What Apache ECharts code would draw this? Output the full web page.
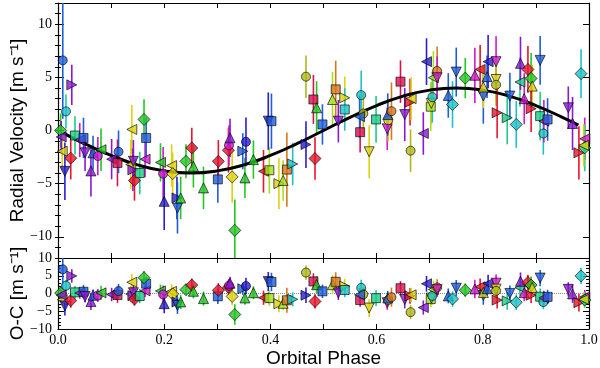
<!DOCTYPE html>
<html>
<head>
<meta charset="utf-8">
<script src="https://cdn.jsdelivr.net/npm/echarts@6/dist/echarts.min.js"></script>
<style>
  html, body { margin: 0; padding: 0; background: #fff; }
  #chart { width: 600px; height: 368px; }
</style>
</head>
<body>
<div id="chart"></div>
<script>
// orbital phase of each measurement
const phase = [
  0.005, 0.009, 0.008, 0.006, 0.013, 0.015, 0.026, 0.024, 0.032, 0.041,
  0.048, 0.051, 0.062, 0.066, 0.075, 0.081, 0.101, 0.112, 0.114, 0.137,
  0.139, 0.141, 0.142, 0.144, 0.154, 0.164, 0.166, 0.162, 0.193, 0.198,
  0.200, 0.214, 0.216, 0.224, 0.225, 0.231, 0.241, 0.252, 0.255, 0.274,
  0.301, 0.302, 0.321, 0.322, 0.324, 0.328, 0.333, 0.348, 0.352, 0.354,
  0.368, 0.387, 0.398, 0.396, 0.402, 0.416, 0.424, 0.431, 0.442, 0.467,
  0.467, 0.481, 0.484, 0.487, 0.498, 0.517, 0.523, 0.528, 0.540, 0.540,
  0.569, 0.571, 0.575, 0.568, 0.586, 0.599, 0.620, 0.622, 0.621, 0.628,
  0.645, 0.653, 0.663, 0.664, 0.665, 0.688, 0.694, 0.702, 0.703, 0.705,
  0.707, 0.714, 0.714, 0.735, 0.743, 0.750, 0.767, 0.785, 0.795, 0.801,
  0.801, 0.808, 0.810, 0.825, 0.825, 0.825, 0.827, 0.846, 0.851, 0.863,
  0.870, 0.871, 0.878, 0.885, 0.891, 0.893, 0.891, 0.908, 0.908, 0.914,
  0.915, 0.922, 0.961, 0.969, 0.981, 0.985, 0.992, 0.992, 0.990
];
// radial velocity [m/s]
const rv = [
  0.0, 6.6, -1.95, -0.6, -3.84, 1.8, 4.3, -2.6, -0.47, -0.9,
  -0.7, -2.1, -3.8, -2.1, -2.4, -1.8, -2.7, -3.05, -2.0, -3.2,
  0.1, -3.7, -2.9, -4.7, -4.0, -2.7, -0.7, 1.04, -3.0, -4.06,
  -6.67, -3.3, -4.06, -6.35, -7.3, -6.35, -2.9, -1.64, -3.37, -5.4,
  -4.6, -2.9, -1.86, -1.4, -0.69, -4.37, -9.4, -1.95, -4.46, -1.07,
  -2.74, -3.84, -3.74, 0.88, 0.88, -5.0, -4.7, -3.68, -3.15, -1.32,
  5.07, 2.92, -2.64, 2.14, 0.57, 2.92, 3.87, 0.88, 3.08, 1.98,
  -0.16, 3.33, 1.6, 1.3, -2.0, 1.04, 0.16, 0.97, 1.5, 1.82,
  4.6, 1.5, 2.67, -1.9, 3.0, -0.28, 6.48, 2.24, 2.55, 3.14,
  4.97, 5.6, 4.97, 3.3, 2.45, 5.5, 4.93, 5.2, 5.75, 3.24,
  4.1, 5.07, 6.48, 6.48, 4.8, 4.3, 1.67, 1.2, 3.24, 0.57,
  4.56, 6.32, 3.0, 5.75, 4.9, 4.18, 2.05, 6.6, 1.35, -0.28,
  0.88, 1.04, 2.14, 0.66, -2.1, 5.35, -0.78, -1.63, -1.4
];
// 1-sigma uncertainty [m/s]
const rvErr = [
  1.6, 5.5, 1.8, 1.5, 2.7, 1.6, 1.9, 2.0, 1.8, 1.6,
  1.9, 1.7, 2.4, 1.6, 1.8, 2.0, 1.9, 2.2, 2.0, 2.3,
  2.3, 2.0, 2.0, 1.9, 2.0, 1.7, 1.9, 1.9, 1.8, 2.5,
  2.7, 2.0, 2.0, 2.0, 2.4, 2.0, 1.6, 1.9, 2.0, 2.0,
  2.2, 2.0, 2.1, 1.9, 1.8, 2.4, 2.9, 1.7, 1.9, 2.3,
  1.8, 2.0, 2.2, 2.7, 2.6, 2.4, 1.9, 3.5, 2.0, 2.2,
  2.0, 2.3, 2.0, 2.5, 1.9, 2.6, 2.7, 2.0, 2.0, 2.0,
  1.9, 2.3, 2.0, 2.0, 2.5, 2.2, 2.0, 2.0, 2.0, 2.7,
  2.0, 2.5, 2.2, 2.0, 2.0, 2.0, 2.2, 2.3, 2.0, 2.4,
  2.5, 2.3, 2.0, 2.1, 2.2, 2.3, 1.9, 2.6, 2.3, 2.6,
  2.0, 2.0, 2.5, 2.4, 2.0, 2.0, 2.4, 2.5, 2.2, 2.2,
  2.3, 2.5, 2.4, 2.2, 2.4, 2.0, 2.2, 2.3, 2.3, 2.0,
  2.0, 2.0, 2.0, 2.5, 2.5, 2.3, 2.0, 2.2, 2.0
];
// residuals, observed minus computed [m/s]
const oc = [
  0.13, 6.8, -1.75, -0.45, -3.5, 2.2, 4.95, -2.0, 0.33, 0.12,
  0.49, -0.84, -2.27, -0.48, -0.56, 0.18, -0.29, -0.42, 0.67, -0.15,
  3.18, -0.6, 0.22, -1.56, -0.72, 0.74, 2.76, 4.45, 0.73, -0.27,
  -2.87, 0.6, -0.15, -2.4, -3.35, -2.38, 1.09, 2.36, 0.63, -1.44,
  -0.79, 0.9, 1.76, 2.2, 2.9, -0.83, -5.92, 1.32, -1.25, 2.11,
  0.22, -1.2, -1.3, 3.35, 3.25, -2.9, -2.77, -1.91, -1.63, -0.5,
  5.89, 3.4, -2.24, 2.47, 0.62, 2.49, 3.29, 0.18, 2.08, 0.98,
  -1.85, 1.59, -0.23, -0.37, -4.1, -1.31, -2.58, -1.8, -1.26, -1.04,
  1.49, -1.7, -0.68, -5.26, -0.38, -3.96, 2.74, -1.57, -1.27, -0.69,
  1.12, 1.72, 1.09, -0.67, -1.54, 1.5, 0.95, 1.29, 1.91, -0.56,
  0.3, 1.34, 2.77, 2.92, 1.24, 0.74, -1.86, -2.09, 0.02, -2.45,
  1.65, 3.43, 0.23, 3.1, 2.36, 1.68, -0.49, 4.35, -0.9, -2.42,
  -1.24, -0.94, 1.17, -0.12, -2.58, 4.97, -0.98, -1.83, -1.65
];
// marker shape per point: o circle, s square, D diamond, ^ v < > triangles
const marker = [
  'D','o','<','<','v','o','>','D','s','<',
  's','v','^','^','o','<','<','s','o','<',
  '<','>','v','D','s','<','s','D','<','o',
  '^','<','D','>','v','^','D','D','^','^',
  's','D','D','o','^','D','D','>','^','o',
  '^','<','s','v','s','>','^','s','>','>',
  'o','s','D','^','s','^','s','v','>','s',
  's','o','o','<','v','s','v','o','^','o',
  's','v','>','o','<','<','<','s','v','o',
  '<','o','v','^','D','v','D','^','<','v',
  '^','^','<','v','v','o','>','>','v','D',
  '<','^','^','D','D','^','>','v','s','o',
  '<','s','v','^','>','D','<','D','<'
];
// colour key per point
const colorKey = [
  'G','A','Y','V','B','C','V','R','T','M',
  'A','V','V','A','M','G','V','P','A','Y',
  'Y','V','V','R','T','M','A','G','G','M',
  'B','Y','Y','B','A','G','G','R','G','G',
  'A','R','R','M','V','Y','G','A','G','B',
  'G','R','L','B','A','Y','L','O','C','B',
  'K','P','R','G','A','L','O','V','Y','C',
  'P','C','K','A','Y','T','M','Y','A','O',
  'P','V','R','K','Y','V','B','L','Y','C',
  'L','O','M','A','C','A','G','M','R','A',
  'Y','A','B','M','Y','K','R','T','A','C',
  'T','V','M','R','G','Y','R','A','T','C',
  'M','A','V','V','R','C','M','T','Y'
];
// Keplerian fit
const fitPhase = [0.01, 0.05, 0.1, 0.15, 0.2, 0.25, 0.3, 0.35, 0.4, 0.45, 0.5,
  0.55, 0.6, 0.65, 0.7, 0.75, 0.8, 0.85, 0.9, 0.95, 0.98];
const fitRv = [-0.25, -1.24, -2.35, -3.24, -3.8, -4.0, -3.8, -3.24, -2.35, -1.24, 0.0,
  1.24, 2.35, 3.24, 3.8, 4.0, 3.8, 3.24, 2.35, 1.24, 0.5];

const rvTicks = [-10, -5, 0, 5, 10];

const palette = {
  R: '#e8142c', P: '#d8124e', O: '#d8761c', Y: '#dcd20e', K: '#b2b816',
  L: '#a4e01e', G: '#20c820', T: '#1ccc86', C: '#1ec2c6', A: '#1e5ed8',
  B: '#2a1ed0', V: '#8818d4', M: '#d018d0'
};

const symbolMap = {
  'o': { symbol: 'circle', rot: 0, size: 9 },
  's': { symbol: 'rect', rot: 0, size: 9 },
  'D': { symbol: 'diamond', rot: 0, size: 12 },
  '^': { symbol: 'triangle', rot: 0, size: 10 },
  'v': { symbol: 'triangle', rot: 180, size: 10 },
  '<': { symbol: 'triangle', rot: 90, size: 10 },
  '>': { symbol: 'triangle', rot: -90, size: 10 }
};

const chart = echarts.init(document.getElementById('chart'));

const minus = v => (v < 0 ? '\u2212' + Math.abs(v) : String(v));
const tickFont = { fontFamily: 'Liberation Serif', fontSize: 14, color: '#000' };
const titleFont = { fontFamily: 'Liberation Sans', fontSize: 19, color: '#000' };
const axisLine = { show: true, onZero: false, lineStyle: { color: '#000', width: 1.2 } };

// points for the scatter series
const makePoints = (ys) => phase.map((p, i) => {
  const s = symbolMap[marker[i]];
  return {
    value: [p, ys[i]],
    symbol: s.symbol,
    symbolRotate: s.rot,
    symbolSize: s.size,
    itemStyle: { color: palette[colorKey[i]], borderColor: '#000', borderWidth: 0.8 }
  };
});

// vertical error bars drawn through the axes
const errorBars = (ys, lo, hi, xi, yi) => ({
  type: 'custom',
  xAxisIndex: xi,
  yAxisIndex: yi,
  clip: true,
  z: 2,
  data: phase.map((p, i) => [p, ys[i], rvErr[i], i]),
  renderItem: (params, api) => {
    const x = api.value(0), y = api.value(1), e = api.value(2);
    const top = api.coord([x, Math.min(y + e, hi)]);
    const bot = api.coord([x, Math.max(y - e, lo)]);
    return {
      type: 'line',
      shape: { x1: top[0], y1: top[1], x2: bot[0], y2: bot[1] },
      style: { stroke: palette[colorKey[api.value(3)]], lineWidth: 1.6 }
    };
  }
});

const xBase = (grid, pos, labels) => ({
  type: 'value', gridIndex: grid, position: pos, min: 0, max: 1, interval: 0.2,
  axisLine: axisLine,
  axisTick: { show: true, inside: true, length: 5, lineStyle: { color: '#000' } },
  minorTick: { show: true, splitNumber: 2, length: 5, lineStyle: { color: '#000' } },
  splitLine: { show: false },
  axisLabel: { show: labels, margin: 4, ...tickFont, formatter: v => v.toFixed(1) }
});

const option = {
  animation: false,
  grid: [
    { left: 58, right: 11, top: 3, height: 255, outerBoundsMode: 'none', containLabel: false },
    { left: 58, right: 11, top: 258, height: 71, outerBoundsMode: 'none', containLabel: false }
  ],
  xAxis: [
    xBase(0, 'bottom', false),
    xBase(0, 'top', false),
    Object.assign(xBase(1, 'bottom', true), {
      name: 'Orbital Phase', nameLocation: 'middle', nameGap: 20,
      nameMoveOverlap: false, nameTextStyle: titleFont
    }),
    xBase(1, 'top', false)
  ],
  yAxis: [
    {
      type: 'value', gridIndex: 0, position: 'left', min: -12, max: 12,
      axisLine: axisLine,
      axisTick: { show: true, inside: true, length: 6, customValues: rvTicks, lineStyle: { color: '#000' } },
      axisLabel: { show: true, margin: 6, customValues: rvTicks, ...tickFont, formatter: minus },
      splitLine: { show: false },
      name: 'Radial Velocity [m s\u207B\u00B9]', nameLocation: 'middle', nameGap: 31,
      nameMoveOverlap: false, nameTextStyle: titleFont
    },
    {
      type: 'value', gridIndex: 0, position: 'left', min: -12, max: 12, interval: 1,
      axisLine: { show: false },
      axisTick: { show: true, inside: true, length: 3, lineStyle: { color: '#000' } },
      axisLabel: { show: false }, splitLine: { show: false }
    },
    {
      type: 'value', gridIndex: 0, position: 'right', min: -12, max: 12,
      axisLine: axisLine,
      axisTick: { show: true, inside: true, length: 6, customValues: rvTicks, lineStyle: { color: '#000' } },
      axisLabel: { show: false }, splitLine: { show: false }
    },
    {
      type: 'value', gridIndex: 0, position: 'right', min: -12, max: 12, interval: 1,
      axisLine: { show: false },
      axisTick: { show: true, inside: true, length: 3, lineStyle: { color: '#000' } },
      axisLabel: { show: false }, splitLine: { show: false }
    },
    {
      type: 'value', gridIndex: 1, position: 'left', min: -10, max: 10, interval: 5,
      axisLine: axisLine,
      axisTick: { show: true, inside: true, length: 6, lineStyle: { color: '#000' } },
      minorTick: { show: true, splitNumber: 5, length: 3, lineStyle: { color: '#000' } },
      axisLabel: { show: true, margin: 6, ...tickFont, formatter: minus },
      splitLine: { show: false },
      name: 'O-C [m s\u207B\u00B9]', nameLocation: 'middle', nameGap: 31,
      nameMoveOverlap: false, nameTextStyle: titleFont
    },
    {
      type: 'value', gridIndex: 1, position: 'right', min: -10, max: 10, interval: 5,
      axisLine: axisLine,
      axisTick: { show: true, inside: true, length: 6, lineStyle: { color: '#000' } },
      minorTick: { show: true, splitNumber: 5, length: 3, lineStyle: { color: '#000' } },
      axisLabel: { show: false }, splitLine: { show: false }
    }
  ],
  series: [
    errorBars(rv, -12, 12, 0, 0),
    {
      type: 'line', xAxisIndex: 0, yAxisIndex: 0, z: 3,
      data: fitPhase.map((p, i) => [p, fitRv[i]]),
      smooth: true, symbol: 'none',
      lineStyle: { color: '#000', width: 3 }
    },
    {
      type: 'scatter', xAxisIndex: 0, yAxisIndex: 0, z: 4,
      data: makePoints(rv)
    },
    errorBars(oc, -10, 10, 2, 4),
    {
      type: 'scatter', xAxisIndex: 2, yAxisIndex: 4, z: 4,
      data: makePoints(oc),
      markLine: {
        silent: true, symbol: 'none', z: 1,
        label: { show: false },
        lineStyle: { color: '#7a8ab8', type: 'dotted', width: 1 },
        data: [{ yAxis: 0 }]
      }
    }
  ]
};

chart.setOption(option);
</script>
</body>
</html>
